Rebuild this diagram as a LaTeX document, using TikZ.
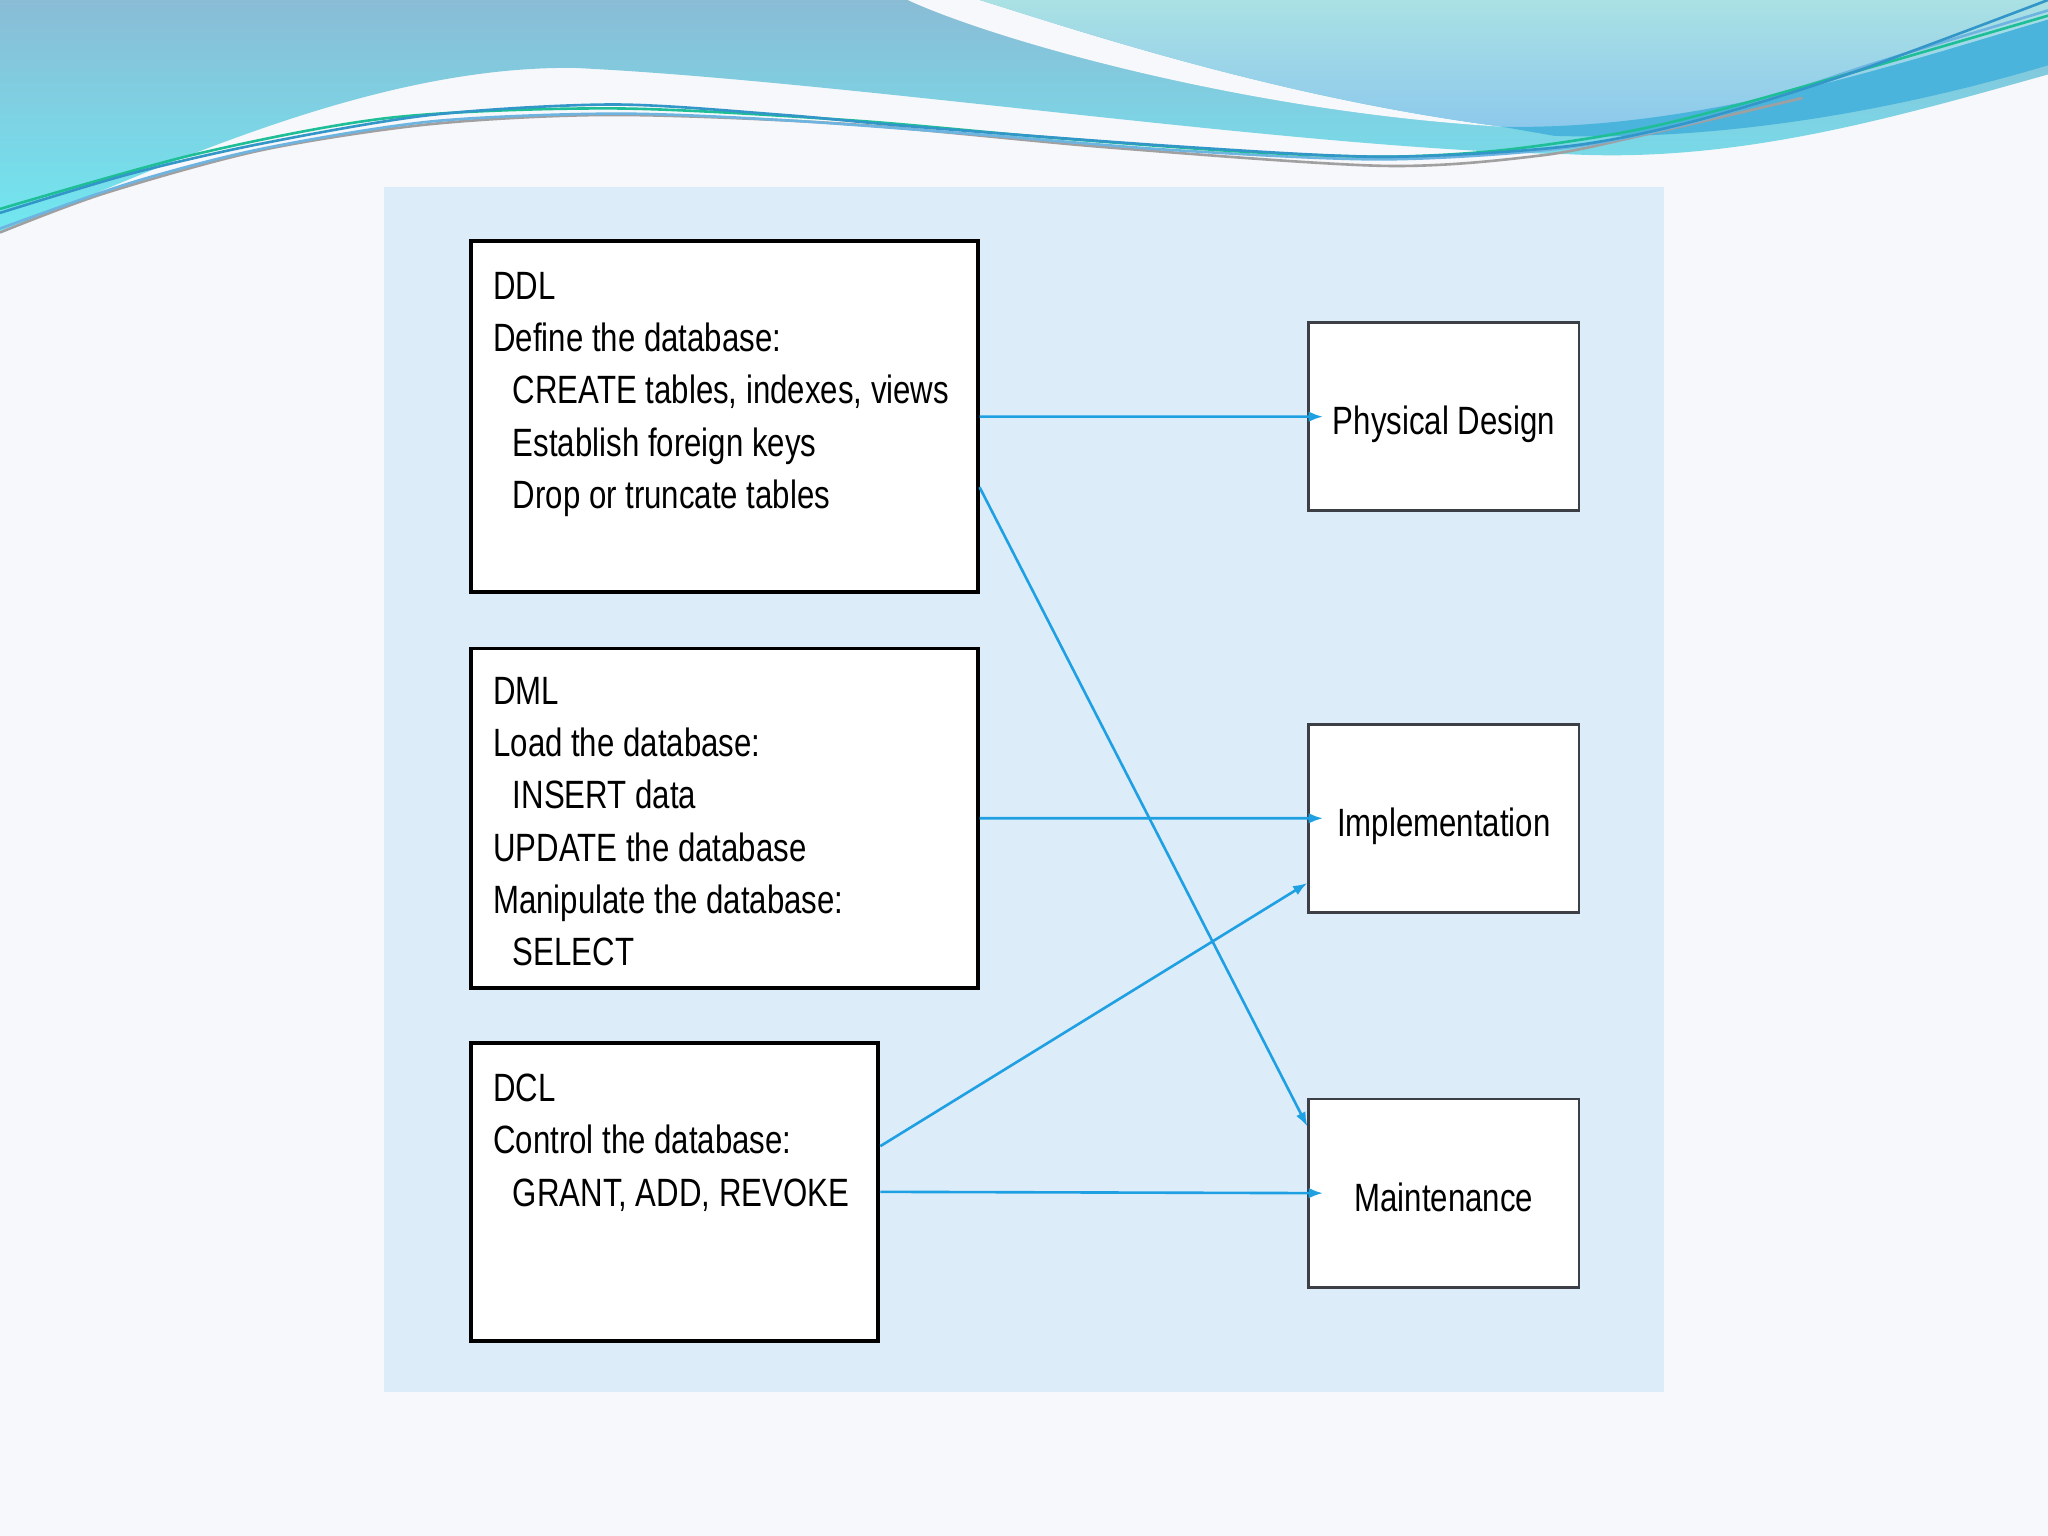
\documentclass[tikz,border=0pt]{standalone}
\usepackage{fontspec}
\setmainfont{Liberation Sans}[FakeStretch=0.79]
\usetikzlibrary{arrows.meta}
\definecolor{pagebg}{RGB}{247,248,251}
\definecolor{panel}{RGB}{221,236,249}
\definecolor{flowblue}{RGB}{30,160,226}
\definecolor{boxgrey}{RGB}{60,64,70}
\definecolor{wavetop}{RGB}{138,188,214}
\definecolor{wavelow}{RGB}{112,232,240}
\definecolor{sailtop}{RGB}{170,225,228}
\definecolor{saillow}{RGB}{140,200,236}
\definecolor{sailband}{RGB}{75,180,220}
\definecolor{linegrey}{RGB}{160,160,160}
\definecolor{lineblue}{RGB}{110,180,225}
\definecolor{linegreen}{RGB}{30,190,150}
\definecolor{linedeep}{RGB}{50,150,200}
\begin{document}
\begin{tikzpicture}[x=0.1mm,y=-0.1mm,
    bigbox/.style={draw=black,line width=0.3mm,fill=white,minimum width=38.8mm,inner sep=0,anchor=north west},
    smallbox/.style={draw=boxgrey,line width=0.2mm,fill=white,minimum width=20.7mm,minimum height=14.4mm,inner sep=0,
        text height=2.8mm,text depth=0pt,font=\fontsize{8.6}{11.4}\selectfont},
    boxtext/.style={anchor=north west,inner sep=0,align=left,font=\fontsize{8.6}{11.4}\selectfont},
    flow/.style={draw=flowblue,line width=0.2mm,-{Latex[length=1.1mm,width=0.8mm]}}]
    \useasboundingbox (0,0) rectangle (1568,1176);
    \fill[pagebg] (0,0) rectangle (1568,1176);
    % waves on top
    \shade[top color=wavetop,bottom color=wavelow]
        (0,0) -- (1568,0) -- (1568,57) .. controls (1450,90) and (1330,125) .. (1200,118)
        .. controls (1000,115) and (650,62) .. (440,52) .. controls (280,50) and (110,135) .. (0,178) -- cycle;
    \fill[pagebg] (695,0) .. controls (760,30) and (950,85) .. (1150,97) .. controls (980,75) and (830,25) .. (750,0) -- cycle;
    \shade[top color=sailtop,bottom color=saillow]
        (750,0) -- (1568,0) -- (1568,15) .. controls (1450,50) and (1300,100) .. (1150,97) .. controls (980,75) and (830,25) .. (750,0) -- cycle;
    \fill[sailband] (1150,97) .. controls (1300,100) and (1450,50) .. (1568,15) -- (1568,50)
        .. controls (1450,85) and (1320,108) .. (1190,104) -- cycle;
    \draw[line width=0.2mm,linegrey] plot[smooth] coordinates {(0,178) (80,148) (200,115) (330,95) (470,88) (650,95) (850,113) (1060,127) (1180,119) (1260,103) (1380,75)};
    \draw[line width=0.2mm,lineblue] plot[smooth] coordinates {(0,175) (100,140) (200,114) (330,93) (470,87) (600,92) (750,103) (900,115) (1060,122) (1200,113) (1310,90) (1430,50) (1568,8)};
    \draw[line width=0.2mm,linegreen] plot[smooth] coordinates {(0,160) (150,118) (300,90) (470,83) (650,92) (800,105) (950,116) (1060,120) (1150,115) (1250,100) (1350,75) (1568,12)};
    \draw[line width=0.2mm,linedeep] plot[smooth] coordinates {(0,163) (100,133) (200,110) (330,88) (470,80) (600,88) (700,97) (900,112) (1060,120) (1200,112) (1300,92) (1420,55) (1568,0)};
    % panel
    \fill[panel] (294,143) rectangle (1274,1066);
    \node[bigbox,minimum height=26.9mm] (ddl) at (359,183) {};
    \node[bigbox,minimum height=26.0mm] (dml) at (359,495) {};
    \node[bigbox,minimum width=31.2mm,minimum height=22.8mm] (dcl) at (359,797) {};
    \node[boxtext] (ddltext) at ([xshift=1.8mm,yshift=-2.45mm]ddl.north west) {DDL\\Define the database:\\\hspace*{1.5mm}CREATE tables, indexes, views\\\hspace*{1.5mm}Establish foreign keys\\\hspace*{1.5mm}Drop or truncate tables};
    \node[boxtext] (dmltext) at ([xshift=1.8mm,yshift=-2.25mm]dml.north west) {DML\\Load the database:\\\hspace*{1.5mm}INSERT data\\UPDATE the database\\Manipulate the database:\\\hspace*{1.5mm}SELECT};
    \node[boxtext] (dcltext) at ([xshift=1.8mm,yshift=-2.45mm]dcl.north west) {DCL\\Control the database:\\\hspace*{1.5mm}GRANT, ADD, REVOKE};
    \node[smallbox] (phys) at (1105.5,319) {Physical Design};
    \node[smallbox] (impl) at (1105.5,626.5) {Implementation};
    \node[smallbox] (maint) at (1105.5,913.5) {Maintenance};
    \draw[flow] (ddl.east) -- ([xshift=1.2mm]phys.west);
    \draw[flow] ([yshift=-5.4mm]ddl.east) -- ([yshift=5.1mm]maint.west);
    \draw[flow] (dml.east) -- ([xshift=1.2mm]impl.west);
    \draw[flow] ([yshift=3.5mm]dcl.east) -- ([yshift=-4.95mm]impl.west);
    \draw[flow] (dcl.east) -- ([xshift=1.2mm]maint.west);
\end{tikzpicture}
\end{document}
